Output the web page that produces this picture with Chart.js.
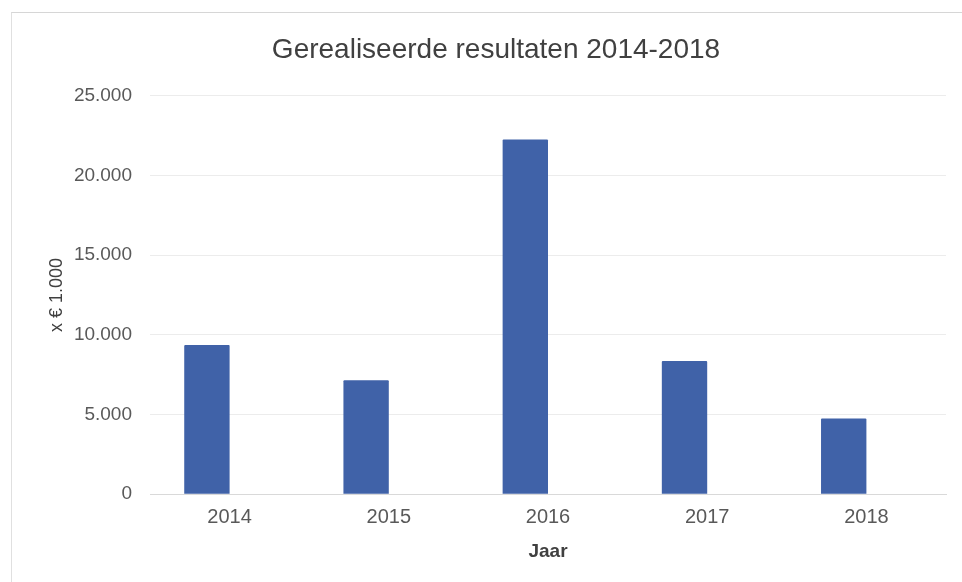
<!DOCTYPE html>
<html>
<head>
<meta charset="utf-8">
<script src="https://cdn.jsdelivr.net/npm/chart.js@4"></script>
<style>
    html, body { margin: 0; padding: 0; background: #ffffff; }
    #wrap { position: relative; width: 962px; height: 582px; }
    #frame {
        position: absolute; left: 11px; top: 12px; width: 960px; height: 580px;
        border-left: 1px solid #e0e0e0; border-top: 1px solid #d6d6d6;
    }
    canvas { position: absolute; left: 0; top: 0; }
</style>
</head>
<body>
<div id="wrap">
    <div id="frame"></div>
    <canvas id="chart" width="962" height="582"></canvas>
</div>
<script>
const years = ['2014', '2015', '2016', '2017', '2018']
const resultaten = [9350, 7150, 22250, 8350, 4750]
const yTicks = [0, 5000, 10000, 15000, 20000, 25000]

const fmt = v => v === 0 ? '0' : Math.floor(v / 1000) + '.' + String(v % 1000).padStart(3, '0')

const ctx = document.getElementById('chart').getContext('2d')

new Chart(ctx, {
    type: 'bar',
    data: {
        labels: years,
        datasets: [{
            label: 'Resultaat',
            data: resultaten,
            backgroundColor: '#4062a8',
            borderWidth: 0,
            borderRadius: 1,
            barPercentage: 1,
            categoryPercentage: 0.57,
        }, {
            // empty second series in the original, keeps the bars left of the ticks
            label: '',
            data: [],
            backgroundColor: 'rgba(0,0,0,0)',
            barPercentage: 1,
            categoryPercentage: 0.57,
        }]
    },
    options: {
        responsive: false,
        animation: false,
        layout: { padding: { left: 46, right: 16, top: 33, bottom: 19 } },
        plugins: {
            legend: { display: false },
            tooltip: { enabled: false },
            title: {
                display: true,
                text: 'Gerealiseerde resultaten 2014-2018',
                color: '#404040',
                font: { family: 'Liberation Sans', size: 28, weight: 'normal' },
                padding: { top: 0, bottom: 29 },
            }
        },
        scales: {
            x: {
                grid: { display: false, drawTicks: false },
                border: { color: '#d9d9d9', width: 1 },
                ticks: {
                    color: '#595959',
                    font: { family: 'Liberation Sans', size: 20 },
                    padding: 11,
                },
                title: {
                    display: true,
                    text: 'Jaar',
                    color: '#404040',
                    font: { family: 'Liberation Sans', size: 19, weight: 'bold' },
                    padding: { top: 0, bottom: 0 },
                }
            },
            y: {
                min: 0,
                max: 25000,
                afterBuildTicks: axis => { axis.ticks = yTicks.map(v => ({ value: v })) },
                afterFit: axis => { axis.width = 104 },
                grid: { color: '#ececec', drawTicks: false },
                border: { display: false },
                ticks: {
                    color: '#595959',
                    font: { family: 'Liberation Sans', size: 19 },
                    padding: 18,
                    callback: v => fmt(v),
                },
                title: {
                    display: true,
                    text: 'x € 1.000',
                    color: '#404040',
                    font: { family: 'Liberation Sans', size: 18 },
                    padding: { top: 0, bottom: 0 },
                }
            }
        }
    }
})
</script>
</body>
</html>
